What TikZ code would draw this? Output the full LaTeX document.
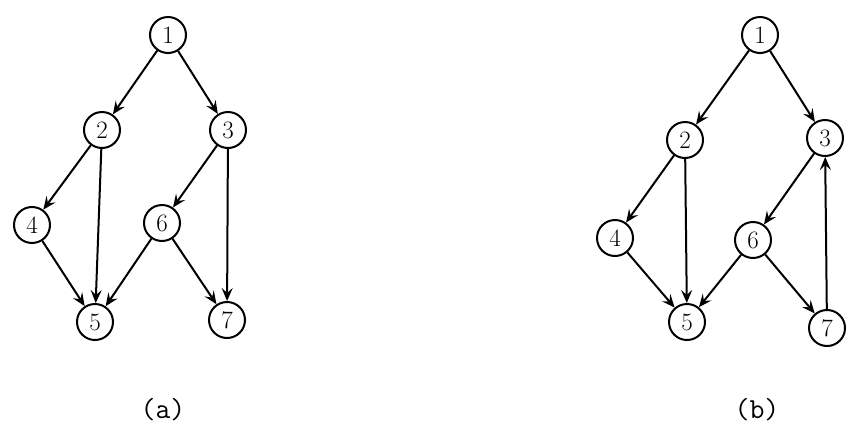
\documentclass[tikz,border=0pt]{standalone}
\usetikzlibrary{arrows.meta}
\begin{document}
\begin{tikzpicture}[x=1pt,y=-1pt,
  vtx/.style={draw,circle,line width=2pt,minimum size=36pt,inner sep=0pt,font=\fontsize{25}{27}\selectfont},
  edge/.style={line width=2pt,-{Stealth[length=13pt,width=11pt,inset=5pt]}},
  captext/.style={font=\ttfamily\fontsize{29}{31}\selectfont}]
\useasboundingbox (0,0) rectangle (856,437);
% (a)
\node[vtx] (a1) at (168,35) {1};
\node[vtx] (a2) at (102,130) {2};
\node[vtx] (a3) at (228,130) {3};
\node[vtx] (a4) at (32,225) {4};
\node[vtx] (a6) at (162,223) {6};
\node[vtx] (a5) at (95,322) {5};
\node[vtx] (a7) at (227,320) {7};
\draw[edge] (a1) -- (a2);
\draw[edge] (a1) -- (a3);
\draw[edge] (a2) -- (a4);
\draw[edge] (a2) -- (a5);
\draw[edge] (a3) -- (a6);
\draw[edge] (a3) -- (a7);
\draw[edge] (a4) -- (a5);
\draw[edge] (a6) -- (a5);
\draw[edge] (a6) -- (a7);
\node[captext] (la) at (163,410) {(a)};
% (b)
\node[vtx] (b1) at (760,35) {1};
\node[vtx] (b2) at (685,140) {2};
\node[vtx] (b3) at (825,138) {3};
\node[vtx] (b4) at (615,238) {4};
\node[vtx] (b6) at (753,240) {6};
\node[vtx] (b5) at (687,322) {5};
\node[vtx] (b7) at (827,328) {7};
\draw[edge] (b1) -- (b2);
\draw[edge] (b1) -- (b3);
\draw[edge] (b2) -- (b4);
\draw[edge] (b2) -- (b5);
\draw[edge] (b3) -- (b6);
\draw[edge] (b4) -- (b5);
\draw[edge] (b6) -- (b5);
\draw[edge] (b6) -- (b7);
\draw[edge] (b7) -- (b3);
\node[captext] (lb) at (757,410) {(b)};
\end{tikzpicture}
\end{document}
